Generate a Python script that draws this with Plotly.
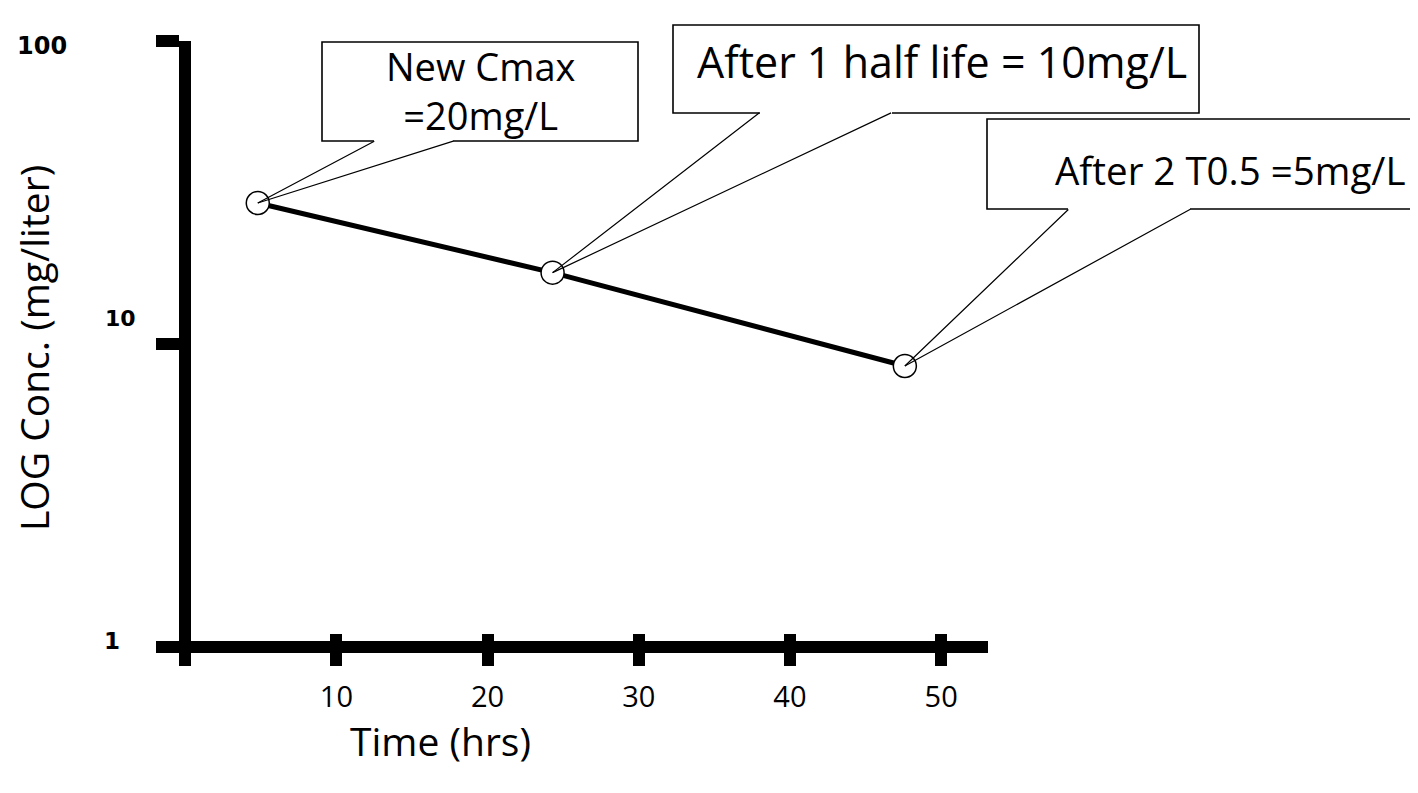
import math
import plotly.graph_objects as go

# The page body has an 8px margin, so the figure is drawn 8px in from the
# top-left corner; the figure is sized so that no scrollbars appear.
W, H = 1410, 777
OFF = 8

# ---------------- data ----------------
time_hrs = [4.8, 24.3, 47.6]
conc_mg_per_l = [29.2, 17.2, 8.46]
x_tick_vals = [10, 20, 30, 40, 50]
x_tick_text = ["10", "20", "30", "40", "50"]
y_tick_vals = [1, 10, 100]
y_tick_text = ["1", "10", "100"]
callout_text = ["New Cmax<br>=20mg/L", "After 1 half life = 10mg/L", "After 2 T0.5 =5mg/L"]
x_title = "Time (hrs)"
y_title = "LOG Conc. (mg/liter)"

# ---------------- layout helpers (screen pixel -> paper) ----------------
def px(x):
    return (x - OFF) / W

def py(y):
    return 1 - (y - OFF) / H

FONT = "Open Sans"

fig = go.Figure()

fig.add_trace(go.Scatter(
    x=time_hrs, y=conc_mg_per_l, mode="lines+markers",
    line=dict(color="black", width=5),
    marker=dict(symbol="circle", size=23, color="white",
                line=dict(color="black", width=1.5)),
    cliponaxis=False, showlegend=False, hoverinfo="skip",
))
# helper trace so the overlay axis (inner half of the x ticks) is drawn
fig.add_trace(go.Scatter(
    x=time_hrs, y=conc_mg_per_l, xaxis="x2", mode="markers",
    marker=dict(opacity=0), showlegend=False, hoverinfo="skip",
))

x_range = [-1.8, 53.1]
y_range = [-0.0627, 2.0]
axis_y_pos = py(647)

fig.update_layout(
    width=W, height=H, autosize=False,
    margin=dict(l=0, r=0, t=0, b=0),
    paper_bgcolor="white", plot_bgcolor="rgba(0,0,0,0)",
    showlegend=False,
    xaxis=dict(
        domain=[px(158), px(988)], range=x_range, anchor="free", position=axis_y_pos,
        showline=True, linewidth=12, linecolor="black",
        ticks="outside", ticklen=13, tickwidth=12, tickcolor="black",
        tickmode="array", tickvals=x_tick_vals, ticktext=x_tick_text,
        tickfont=dict(family=FONT, size=29, color="black"), ticklabelstandoff=6,
        showgrid=False, zeroline=False,
    ),
    xaxis2=dict(
        overlaying="x", range=x_range, anchor="free", position=axis_y_pos, side="bottom",
        showline=False, ticks="inside", ticklen=13, tickwidth=12, tickcolor="black",
        tickmode="array", tickvals=x_tick_vals, showticklabels=False,
        showgrid=False, zeroline=False,
    ),
    yaxis=dict(
        type="log", domain=[py(666), py(41)], range=y_range, anchor="free", position=px(185),
        showline=True, linewidth=12, linecolor="black",
        ticks="outside", ticklen=23, tickwidth=12, tickcolor="black",
        tickmode="array", tickvals=y_tick_vals, showticklabels=False,
        showgrid=False, zeroline=False,
    ),
)

# y tick labels (separate text boxes in the original)
ylab_left = [102, 103, 15]
ylab_shift = [6, 26, -5]
ylab_size = [23, 22, 24]
for v, t, xl, sh, fs in zip(y_tick_vals, y_tick_text, ylab_left, ylab_shift, ylab_size):
    fig.add_annotation(
        x=px(xl), xref="paper", y=math.log10(v), yref="y", yshift=sh,
        text=t, showarrow=False, xanchor="left", yanchor="middle",
        font=dict(family="DejaVu Sans", size=fs, color="black", weight="bold"),
    )

# axis titles
fig.add_annotation(
    x=px(34), y=py(348), xref="paper", yref="paper", text=y_title, textangle=-90,
    showarrow=False, xanchor="center", yanchor="middle",
    font=dict(family=FONT, size=39, color="black"),
)
fig.add_annotation(
    x=px(440), y=py(740), xref="paper", yref="paper", text=x_title,
    showarrow=False, xanchor="center", yanchor="middle",
    font=dict(family=FONT, size=39, color="black"),
)

# callouts: box (left, top, right, bottom, wedge-base-left, wedge-base-right) in px
boxes = [
    (322, 42, 638, 141, 374, 453),
    (673, 25, 1199, 113, 760, 892),
    (987, 119, 1430, 209, 1068, 1190),
]
text_pos = [(480, 91), (942, 62), (1230, 170)]
text_size = [38, 43, 38.5]
tip_pix = [(257, 203), (553, 273), (904, 366)]

for i, (l, t, r, b, bl, br) in enumerate(boxes):
    path = (f"M {px(bl)} {py(b)} L {px(l)} {py(b)} L {px(l)} {py(t)} "
            f"L {px(r)} {py(t)} L {px(r)} {py(b)} L {px(br)} {py(b)}")
    fig.add_shape(type="path", path=path, xref="paper", yref="paper",
                  fillcolor="white", line=dict(color="black", width=1.6), layer="above")
    tx, ty = tip_pix[i]
    for base_x in (bl, br):
        fig.add_annotation(
            x=time_hrs[i], y=math.log10(conc_mg_per_l[i]), xref="x", yref="y",
            ax=base_x - tx, ay=b - ty, axref="pixel", ayref="pixel",
            text=" ", font=dict(size=1), borderpad=0,
            showarrow=True, arrowhead=0, arrowwidth=1.2, arrowcolor="black", standoff=0,
        )
    cx, cy = text_pos[i]
    fig.add_annotation(
        x=px(cx), y=py(cy), xref="paper", yref="paper", text=callout_text[i],
        showarrow=False, xanchor="center", yanchor="middle",
        font=dict(family=FONT, size=text_size[i], color="black"),
    )

fig.write_html("out.html")
